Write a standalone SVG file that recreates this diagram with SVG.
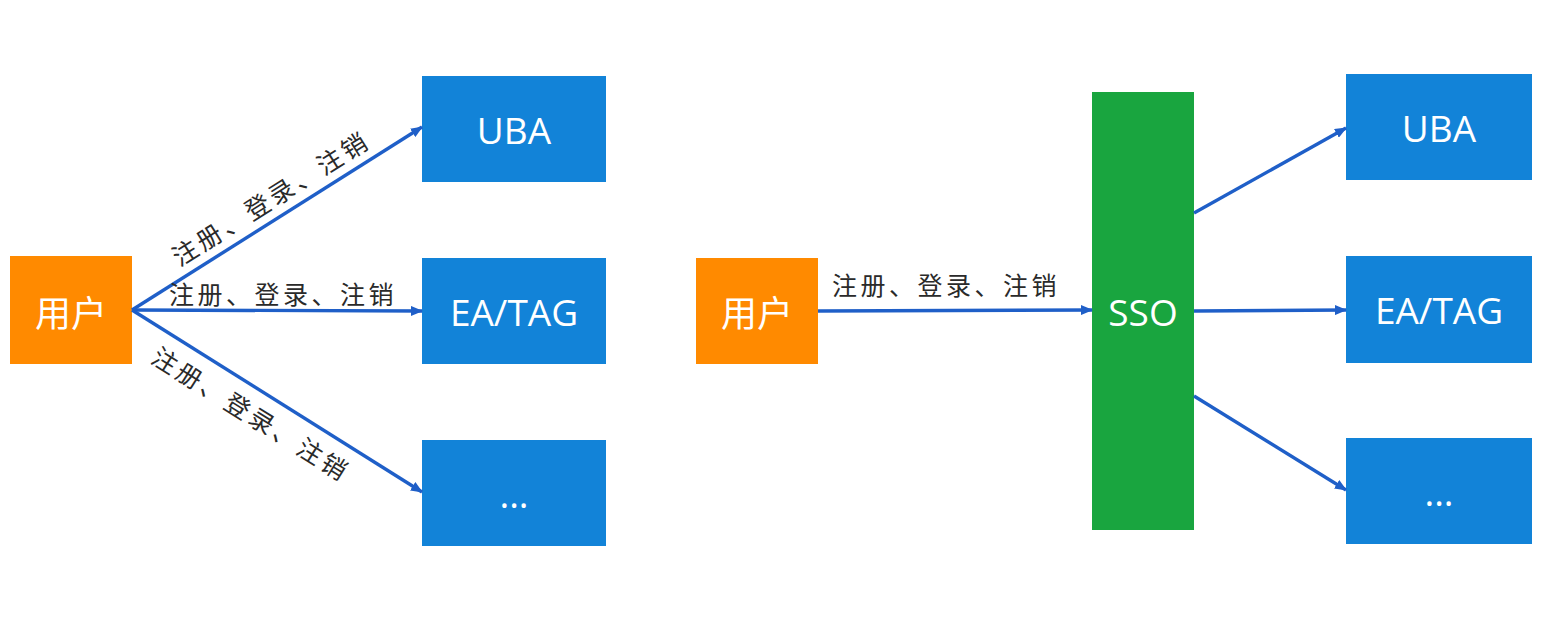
<svg xmlns="http://www.w3.org/2000/svg" width="1556" height="624" viewBox="0 0 1556 624">
<defs>
<marker id="ah" markerWidth="12" markerHeight="10" refX="11" refY="5" orient="auto" markerUnits="userSpaceOnUse">
<path d="M0,0 L12,5 L0,10 Z" fill="#1F5FC8"/>
</marker>
<style>
.user{fill:#FF8A00}
.svc{fill:#1283D8}
.sso{fill:#19A53F}
.nt{font-family:"Open Sans","Noto Sans","Noto Sans CJK SC",sans-serif;font-size:37px;fill:#fff;text-anchor:middle;dominant-baseline:central}
.cj{font-family:"Noto Sans CJK SC",sans-serif;font-size:36px}
.lb{font-family:"Noto Sans CJK SC","Noto Sans",sans-serif;font-size:25px;fill:#2a2a2a;text-anchor:middle;dominant-baseline:central;letter-spacing:3.5px}
.cn{stroke:#1F5FC8;stroke-width:3.4;fill:none;marker-end:url(#ah)}
</style>
</defs>
<rect width="1556" height="624" fill="#fff"/>
<g id="user-left"><rect class="user" x="10" y="256" width="122" height="108"/><text class="nt cj" x="71" y="311">用户</text></g>
<g id="uba-left"><rect class="svc" x="422" y="76" width="184" height="106"/><text class="nt" x="514" y="129">UBA</text></g>
<g id="eatag-left"><rect class="svc" x="422" y="258" width="184" height="106"/><text class="nt" x="514" y="311">EA/TAG</text></g>
<g id="more-left"><rect class="svc" x="422" y="440" width="184" height="106"/><text class="nt" x="514" y="493">...</text></g>
<g id="user-right"><rect class="user" x="696" y="258" width="122" height="106"/><text class="nt cj" x="757" y="311">用户</text></g>
<g id="sso"><rect class="sso" x="1092" y="92" width="102" height="438"/><text class="nt" x="1143" y="311">SSO</text></g>
<g id="uba-right"><rect class="svc" x="1346" y="74" width="186" height="106"/><text class="nt" x="1439" y="127">UBA</text></g>
<g id="eatag-right"><rect class="svc" x="1346" y="256" width="186" height="107"/><text class="nt" x="1439" y="309">EA/TAG</text></g>
<g id="more-right"><rect class="svc" x="1346" y="438" width="186" height="106"/><text class="nt" x="1439" y="491">...</text></g>
<g id="connectors">
<line class="cn" x1="132" y1="310" x2="422" y2="127"/>
<line class="cn" x1="132" y1="310" x2="422" y2="311"/>
<line class="cn" x1="132" y1="310" x2="422" y2="492"/>
<line class="cn" x1="818" y1="311" x2="1092" y2="310"/>
<line class="cn" x1="1194" y1="213" x2="1346" y2="128"/>
<line class="cn" x1="1194" y1="311" x2="1346" y2="310"/>
<line class="cn" x1="1194" y1="396" x2="1346" y2="490"/>
<text class="lb" transform="translate(270,197) rotate(-32.2)">注册、登录、注销</text>
<text class="lb" x="283" y="293">注册、登录、注销</text>
<text class="lb" transform="translate(252,413) rotate(32.1)">注册、登录、注销</text>
<text class="lb" x="946" y="284">注册、登录、注销</text>
</g>
</svg>
